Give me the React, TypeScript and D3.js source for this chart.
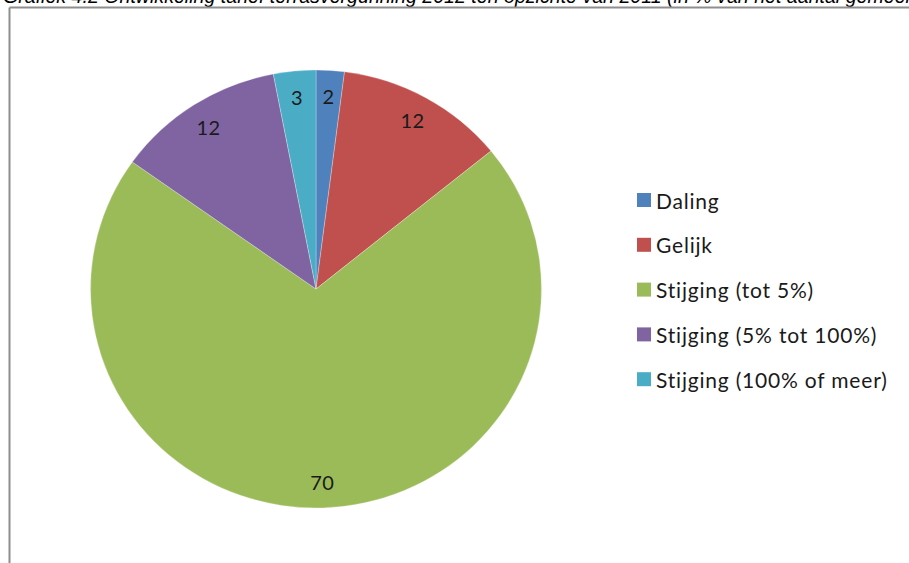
import React from "react";
import * as d3 from "d3";

const categories = [
  "Daling",
  "Gelijk",
  "Stijging (tot 5%)",
  "Stijging (5% tot 100%)",
  "Stijging (100% of meer)",
];
const values = [2, 12, 70, 12, 3];
const colors = ["#4F81BD", "#C0504D", "#9BBB59", "#8064A2", "#4BACC6"];
const title =
  "Grafiek 4.2 Ontwikkeling tarief terrasvergunning 2012 ten opzichte van 2011 (in % van het aantal gemeenten)";

export default function App() {
  const W = 909;
  const H = 563;
  const cx = 316;
  const cy = 289;
  const R = 219;
  const sx = 225.5 / 219;

  const pie = d3
    .pie<number>()
    .sort(null)
    .value((d) => d)
    .startAngle(0)
    .endAngle(2 * Math.PI);
  const arcs = pie(values);
  const arc = d3.arc<d3.PieArcDatum<number>>().innerRadius(0).outerRadius(R);
  const labelR = 193;
  const font = "Lato, 'Open Sans', sans-serif";

  return (
    <svg
      width={W}
      height={H}
      style={{ position: "absolute", left: 0, top: 0, display: "block", background: "#fff" }}
    >
      <text
        x={3}
        y={2.5}
        fontFamily="Arial, 'Liberation Sans', sans-serif"
        fontStyle="italic"
        fontSize={19.6}
        fill="#000"
      >
        {title}
      </text>
      <line x1={9.5} y1={7.5} x2={W} y2={7.5} stroke="#8e8e8e" strokeWidth={2} />
      <line x1={9.5} y1={7.5} x2={9.5} y2={H} stroke="#8e8e8e" strokeWidth={2} />
      <g transform={`translate(${cx},${cy}) scale(${sx},1)`}>
        {arcs.map((a, i) => (
          <path
            key={i}
            d={arc(a) || ""}
            fill={colors[i]}
            stroke="#ffffff"
            strokeOpacity={0.35}
            strokeWidth={0.8}
          />
        ))}
      </g>
      {arcs.map((a, i) => {
        const m = (a.startAngle + a.endAngle) / 2;
        const x = cx + Math.sin(m) * labelR * sx;
        const y = cy - Math.cos(m) * labelR;
        return (
          <text
            key={i}
            x={x}
            y={y}
            textAnchor="middle"
            dominantBaseline="central"
            fontFamily={font}
            fontSize={20}
            letterSpacing={0.5}
            fill="#1a1a1a"
          >
            {values[i]}
          </text>
        );
      })}
      {categories.map((c, i) => {
        const y = 200 + i * 44.8;
        return (
          <g key={c}>
            <rect x={637} y={y - 7} width={14} height={14} fill={colors[i]} />
            <text
              x={656}
              y={y}
              dominantBaseline="central"
              fontFamily={font}
              fontSize={21}
              letterSpacing={0.8}
              fill="#1a1a1a"
            >
              {c}
            </text>
          </g>
        );
      })}
    </svg>
  );
}
